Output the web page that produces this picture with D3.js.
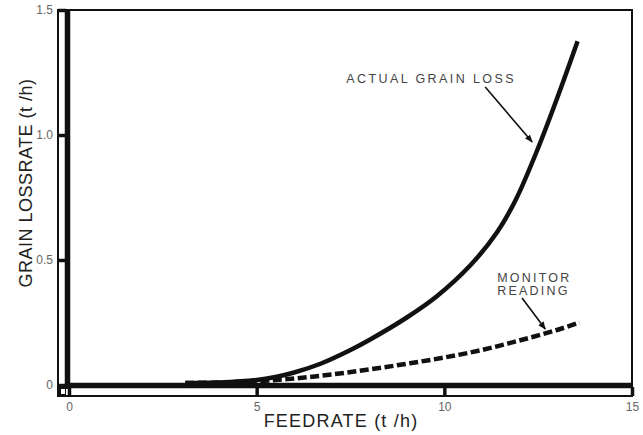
<!DOCTYPE html>
<html>
<head>
<meta charset="utf-8">
<script src="https://cdn.jsdelivr.net/npm/d3@7/dist/d3.min.js"></script>
<style>
  html, body { margin: 0; padding: 0; background: #fff; }
  svg { display: block; }
</style>
</head>
<body>
<svg id="chart" width="643" height="435"></svg>
<script>
// ---- data ----
const xTicks = [0, 5, 10, 15];
const yTicks = [0, 0.5, 1.0, 1.5];
const yTickLabels = ["0", "0.5", "1.0", "1.5"];
const actualX = [3.1, 4.0, 5.0, 5.5, 6.0, 6.7, 7.5, 8.0, 9.0, 9.8, 10.7, 11.4, 11.9, 12.45, 13.0, 13.55];
const actualY = [0.008, 0.01, 0.02, 0.032, 0.05, 0.085, 0.14, 0.18, 0.27, 0.355, 0.48, 0.61, 0.74, 0.93, 1.145, 1.375];
const monitorX = [3.1, 4.0, 5.0, 6.0, 7.0, 8.0, 9.0, 10.0, 11.0, 12.0, 13.0, 13.6];
const monitorY = [0.008, 0.01, 0.015, 0.026, 0.042, 0.062, 0.085, 0.11, 0.14, 0.178, 0.22, 0.25];
const xTitle = "FEEDRATE (t /h)";
const yTitle = "GRAIN LOSSRATE (t /h)";
const labelActual = "ACTUAL GRAIN LOSS";
const labelMonitor = ["MONITOR", "READING"];

// ---- layout ----
const svg = d3.select("#chart");
const x = d3.scaleLinear().domain([0, 15]).range([69, 632]);
const y = d3.scaleLinear().domain([0, 1.5]).range([385, 10]);

const ink = "#111";

// outer thin frame
svg.append("rect")
  .attr("x", 58).attr("y", 10)
  .attr("width", 632 - 58).attr("height", 396 - 10)
  .attr("fill", "none").attr("stroke", ink).attr("stroke-width", 2);

// left axis ticks (between thin frame and thick bar)
const yAxis = d3.axisLeft(y).tickValues(yTicks)
  .tickFormat((d, i) => yTickLabels[i]).tickSize(8).tickPadding(5);
const gy = svg.append("g").attr("transform", "translate(66,0)").call(yAxis);
gy.select(".domain").remove();
gy.selectAll(".tick line").attr("stroke", ink).attr("stroke-width", 3.5);
gy.selectAll(".tick text").attr("fill", "#666").style("font-family", "Arial, 'Liberation Sans', sans-serif").style("font-size", "12px");

// bottom axis ticks
const xAxis = d3.axisBottom(x).tickValues(xTicks).tickSize(9).tickPadding(6);
const gx = svg.append("g").attr("transform", "translate(0,387)").call(xAxis);
gx.select(".domain").remove();
gx.selectAll(".tick line").attr("stroke", ink).attr("stroke-width", 3.5);
gx.selectAll(".tick text").attr("fill", "#666").style("font-family", "Arial, 'Liberation Sans', sans-serif").style("font-size", "12px");

// thick axis bars
svg.append("line").attr("x1", 67.5).attr("x2", 67.5).attr("y1", 10).attr("y2", 389)
  .attr("stroke", ink).attr("stroke-width", 5.5);
svg.append("line").attr("x1", 65).attr("x2", 632).attr("y1", 385.5).attr("y2", 385.5)
  .attr("stroke", ink).attr("stroke-width", 5.5);

// corner square
svg.append("rect").attr("x", 58).attr("y", 387).attr("width", 8).attr("height", 9).attr("fill", ink);
svg.append("rect").attr("x", 61).attr("y", 389).attr("width", 4).attr("height", 5).attr("fill", "#fff");

// curves
const line = d3.line().x(d => x(d[0])).y(d => y(d[1])).curve(d3.curveCatmullRom.alpha(0.5));
svg.append("path")
  .datum(monitorX.map((v, i) => [v, monitorY[i]]))
  .attr("d", line).attr("fill", "none").attr("stroke", ink)
  .attr("stroke-width", 4.5).attr("stroke-dasharray", "9,3.5");
svg.append("path")
  .datum(actualX.map((v, i) => [v, actualY[i]]))
  .attr("d", line).attr("fill", "none").attr("stroke", ink)
  .attr("stroke-width", 4.5);

// arrow marker
svg.append("defs").append("marker")
  .attr("id", "arr").attr("viewBox", "0 0 10 10").attr("refX", 9).attr("refY", 5)
  .attr("markerWidth", 8).attr("markerHeight", 8).attr("orient", "auto")
  .attr("markerUnits", "userSpaceOnUse")
  .append("path").attr("d", "M0,1 L10,5 L0,9 Z").attr("fill", ink);

const annFont = "Arial, 'Liberation Sans', sans-serif";
// annotations
svg.append("text").attr("x", x(7.39)).attr("y", y(1.208))
  .text(labelActual).attr("fill", "#444")
  .style("font-family", annFont).style("font-size", "12.5px").style("letter-spacing", "2.4px");
svg.append("line")
  .attr("x1", x(11.09)).attr("y1", y(1.192)).attr("x2", x(12.34)).attr("y2", y(0.972))
  .attr("stroke", ink).attr("stroke-width", 1.6).attr("marker-end", "url(#arr)");

labelMonitor.forEach((t, i) => {
  svg.append("text").attr("x", x(11.41)).attr("y", y(i === 0 ? 0.412 : 0.36))
    .text(t).attr("fill", "#444")
    .style("font-family", annFont).style("font-size", "12.5px").style("letter-spacing", "2.2px");
});
svg.append("line")
  .attr("x1", x(12.07)).attr("y1", y(0.348)).attr("x2", x(12.69)).attr("y2", y(0.224))
  .attr("stroke", ink).attr("stroke-width", 1.6).attr("marker-end", "url(#arr)");

// axis titles
svg.append("text").attr("x", 341).attr("y", 427).attr("text-anchor", "middle")
  .text(xTitle).attr("fill", "#222")
  .style("font-family", annFont).style("font-size", "18px").style("letter-spacing", "1.2px");
svg.append("text").attr("transform", "translate(32,183) rotate(-90)").attr("text-anchor", "middle")
  .text(yTitle).attr("fill", "#222")
  .style("font-family", annFont).style("font-size", "18px").style("letter-spacing", "0.5px");
</script>
</body>
</html>
